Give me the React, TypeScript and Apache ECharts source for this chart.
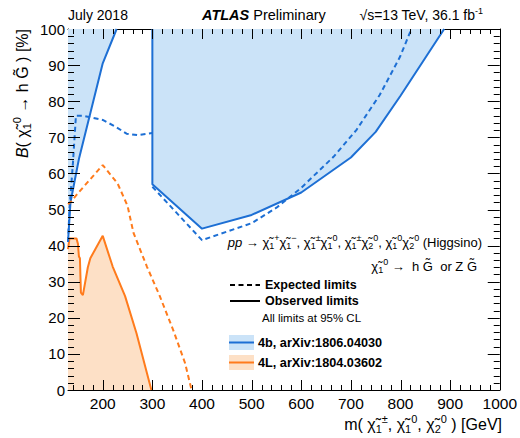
import React, { useEffect, useRef } from "react";
import * as echarts from "echarts";

const FONT = "'Liberation Sans', Arial, Helvetica, sans-serif";

const xMajor = [200, 300, 400, 500, 600, 700, 800, 900, 1000];
const xMinor = [140, 160, 180, 220, 240, 260, 280, 320, 340, 360, 380, 420, 440, 460, 480, 520, 540, 560, 580, 620, 640, 660, 680, 720, 740, 760, 780, 820, 840, 860, 880, 920, 940, 960, 980];
const yMajor = [10, 20, 30, 40, 50, 60, 70, 80, 90];
const yMinor = [2, 4, 6, 8, 12, 14, 16, 18, 22, 24, 26, 28, 32, 34, 36, 38, 42, 44, 46, 48, 52, 54, 56, 58, 62, 64, 66, 68, 72, 74, 76, 78, 82, 84, 86, 88, 92, 94, 96, 98];

// 4b (arXiv:1806.04030) observed, low-mass region
const obs4bLow: number[][] = [[130, 41], [135, 52], [152, 64], [200, 90.5], [228, 100]];
// 4b observed, high-mass region
const obs4bHigh: number[][] = [[300, 100], [300, 57], [400, 44.7], [500, 48.5], [600, 54.7], [700, 64.4], [750, 71.5], [800, 81.5], [888, 100]];
// 4b expected
const exp4bLow: number[][] = [[130, 41], [133, 50], [140, 63], [146, 76], [160, 76], [200, 74.8], [225, 73], [248, 71], [270, 70.6], [300, 71.2]];
const exp4bHigh: number[][] = [[300, 56.3], [400, 41.5], [500, 46.2], [550, 50.5], [600, 56], [665, 64.6], [711, 72], [758, 81.7], [799, 92.3], [822, 100]];
// 4L (arXiv:1804.03602)
const obs4L: number[][] = [[130, 39], [133, 42], [140, 42], [147, 42], [150, 40.5], [152, 37], [154, 36.5], [156, 27], [160, 26.3], [170, 34], [175, 36.5], [185, 39], [200, 42.7], [220, 34.2], [245, 26], [268, 15.7], [298, 0]];
const exp4L: number[][] = [[130, 51.5], [135, 52], [150, 54.5], [200, 62.3], [230, 57.2], [250, 51], [262, 43.5], [289, 34.2], [315, 26], [342, 16.6], [366, 7.4], [379, 0]];

const BLUE = "#1d6fd4";
const BLUE_FILL = "#cbe3f8";
const ORANGE = "#ff7b1c";
const ORANGE_FILL = "#fde0c6";

const rich = (size: number) => {
  const s = Math.round(size * 0.66);
  const lh = Math.round(size * 1.3);
  return {
    i: { fontSize: size, fontStyle: "italic", fontFamily: FONT, lineHeight: lh },
    b: { fontSize: size, fontWeight: "bold", fontFamily: FONT, lineHeight: lh },
    bi: { fontSize: size, fontWeight: "bold", fontStyle: "italic", fontFamily: FONT, lineHeight: lh },
    sub: { fontSize: s, fontFamily: FONT, verticalAlign: "bottom", lineHeight: s + 1 },
    sup: { fontSize: s, fontFamily: FONT, verticalAlign: "top", lineHeight: s + 1 },
  };
};

const chi = "\u03C7\u0303";
const Gt = "G\u0303";
const C = (sub: string, sup: string) => chi + "{sub|" + sub + "}{sup|" + sup + "}";

function txt(x: number, y: number, text: string, size: number, align: string, extra: any = {}) {
  return {
    type: "text",
    x,
    y,
    ...extra,
    style: {
      text,
      fontSize: size,
      fontFamily: FONT,
      fill: "#000",
      textAlign: align,
      textVerticalAlign: "middle",
      lineHeight: Math.round(size * 1.3),
      rich: rich(size),
    },
  };
}

const seg = (x1: number, y1: number, x2: number, y2: number) => ({
  type: "line",
  shape: { x1, y1, x2, y2 },
  style: { stroke: "#000", lineWidth: 1 },
});

// ticks drawn through the cartesian coordinate system (inward, on all four sides)
const xTickSeries = (vals: number[], len: number) => ({
  type: "custom",
  coordinateSystem: "cartesian2d",
  silent: true,
  z: 20,
  data: vals.map((v) => [v, 0]),
  renderItem: (_p: any, api: any) => {
    const v = api.value(0);
    const b = api.coord([v, 0]);
    const t = api.coord([v, 100]);
    const x = Math.round(b[0]) + 0.5;
    return { type: "group", children: [seg(x, b[1], x, b[1] - len), seg(x, t[1], x, t[1] + len)] };
  },
});
const yTickSeries = (vals: number[], len: number) => ({
  type: "custom",
  coordinateSystem: "cartesian2d",
  silent: true,
  z: 20,
  data: vals.map((v) => [130, v]),
  renderItem: (_p: any, api: any) => {
    const v = api.value(1);
    const l = api.coord([130, v]);
    const r = api.coord([1000, v]);
    const y = Math.round(l[1]) + 0.5;
    return { type: "group", children: [seg(l[0], y, l[0] + len, y), seg(r[0], y, r[0] - len, y)] };
  },
});

export default function App() {
  const ref = useRef<HTMLDivElement>(null);
  useEffect(() => {
    if (!ref.current) return;
    const chart = echarts.init(ref.current, null, { renderer: "svg" });
    const lineSeries = (data: number[][], color: string, dashed: boolean, fill: string | null, origin: string) => ({
      type: "line",
      data,
      showSymbol: false,
      symbol: "none",
      lineStyle: { color, width: 2, type: dashed ? [5, 3.5] : "solid" },
      areaStyle: fill ? { color: fill, opacity: 1, origin } : undefined,
      z: dashed ? 4 : 3,
      silent: true,
    });
    chart.setOption({
      animation: false,
      grid: { left: 68, right: 20, top: 29, bottom: 48 },
      xAxis: [
        {
          type: "value", min: 130, max: 1000, position: "bottom",
          splitLine: { show: false },
          axisLine: { show: true, onZero: false, lineStyle: { color: "#000" } },
          axisTick: { show: false },
          axisLabel: { show: true, customValues: xMajor, fontSize: 15.5, color: "#000", fontFamily: FONT, margin: 5, formatter: (v: number) => String(v) },
        },
        {
          type: "value", min: 130, max: 1000, position: "top",
          splitLine: { show: false },
          axisLine: { show: true, onZero: false, lineStyle: { color: "#000" } },
          axisTick: { show: false },
          axisLabel: { show: false },
        },
      ],
      yAxis: [
        {
          type: "value", min: 0, max: 100, interval: 10, position: "left",
          splitLine: { show: false },
          axisLine: { show: true, onZero: false, lineStyle: { color: "#000" } },
          axisTick: { show: false },
          axisLabel: { show: true, fontSize: 15, color: "#000", fontFamily: FONT, margin: 3 },
        },
        {
          type: "value", min: 0, max: 100, interval: 10, position: "right",
          splitLine: { show: false },
          axisLine: { show: true, onZero: false, lineStyle: { color: "#000" } },
          axisTick: { show: false },
          axisLabel: { show: false },
        },
      ],
      series: [
        lineSeries(obs4L, ORANGE, false, ORANGE_FILL, "start"),
        lineSeries(obs4bLow, BLUE, false, BLUE_FILL, "end"),
        lineSeries(obs4bHigh, BLUE, false, BLUE_FILL, "end"),
        lineSeries(exp4bLow, BLUE, true, null, "auto"),
        lineSeries(exp4bHigh, BLUE, true, null, "auto"),
        lineSeries(exp4L, ORANGE, true, null, "auto"),
        xTickSeries(xMajor, 10),
        xTickSeries(xMinor, 5),
        yTickSeries(yMajor, 12),
        yTickSeries(yMinor, 6),
      ],
      graphic: [
        txt(68, 15, "July 2018", 14, "left"),
        txt(202, 15, "{bi|ATLAS} Preliminary", 14.5, "left"),
        txt(483, 15, "\u221As=13 TeV, 36.1 fb{sup|-1}", 14, "right"),
        txt(22, 29, "{i|B}( " + C("1", "0") + " \u2192 h " + Gt + " ) [%]", 16, "right", { rotation: Math.PI / 2 }),
        txt(502, 424, "m( " + C("1", "\u00B1") + ", " + C("1", "0") + ", " + C("2", "0") + " ) [GeV]", 16, "right"),
        txt(482, 242, "{i|pp} \u2192 " + C("1", "+") + C("1", "\u2212") + ", " + C("1", "\u00B1") + C("1", "0") + ", " + C("1", "\u00B1") + C("2", "0") + ", " + C("1", "0") + C("2", "0") + " (Higgsino)", 13, "right"),
        txt(477, 266, C("1", "0") + " \u2192  h " + Gt + "  or Z " + Gt, 13, "right"),
        { type: "polyline", shape: { points: [[230, 285], [260, 285]] }, style: { stroke: "#000", fill: null, lineWidth: 2, lineDash: [5, 3.5] } },
        txt(265, 285, "{b|Expected limits}", 12.5, "left"),
        { type: "rect", shape: { x: 230, y: 300, width: 30, height: 2 }, style: { fill: "#000" } },
        txt(265, 301, "{b|Observed limits}", 12.5, "left"),
        txt(262, 318, "All limits at 95% CL", 11.5, "left"),
        { type: "rect", shape: { x: 229, y: 335, width: 25, height: 15 }, style: { fill: BLUE_FILL } },
        { type: "rect", shape: { x: 229, y: 341.5, width: 25, height: 2 }, style: { fill: BLUE } },
        txt(258, 342.5, "{b|4b, arXiv:1806.04030}", 12.7, "left"),
        { type: "rect", shape: { x: 229, y: 355, width: 25, height: 15 }, style: { fill: ORANGE_FILL } },
        { type: "rect", shape: { x: 229, y: 361.5, width: 25, height: 2 }, style: { fill: ORANGE } },
        txt(258, 362.5, "{b|4L, arXiv:1804.03602}", 12.7, "left"),
      ],
    });
    return () => chart.dispose();
  }, []);
  return <div ref={ref} style={{ width: 520, height: 438, position: "absolute", left: 0, top: 0 }} />;
}
